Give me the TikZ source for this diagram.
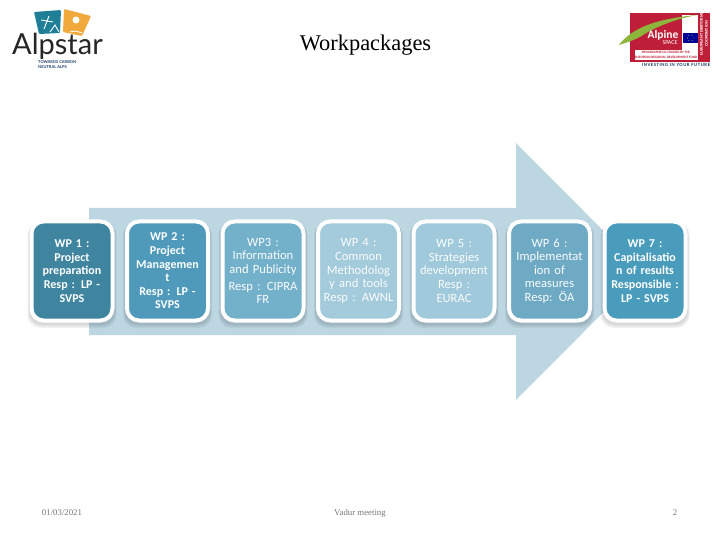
\documentclass[tikz,border=0pt]{standalone}
\usepackage{fontspec}
\setmainfont{Liberation Serif}
\newfontfamily\boxfont{Carlito}
\newfontfamily\logofont{Lato}
\usetikzlibrary{shapes.geometric}
\definecolor{arrowc}{HTML}{BCD6E2}
\definecolor{teal}{HTML}{1F7F97}
\definecolor{navy}{HTML}{1B3F66}
\definecolor{orangec}{HTML}{F0A93A}
\definecolor{redc}{HTML}{BE1E37}
\definecolor{greenc}{HTML}{8DB53C}
\definecolor{footc}{HTML}{777777}
\tikzset{
  wpbox/.style={draw=white,line width=4pt,rounded corners=12pt,minimum width=81pt,minimum height=99pt,inner sep=0pt,align=center,text=white,font=\boxfont\bfseries\fontsize{12}{13.6}\selectfont,text width=74pt},
  wplight/.style={wpbox,font=\boxfont\fontsize{12.6}{13.6}\selectfont,text=white!92!arrowc},
  foot/.style={font=\fontsize{8.8}{10}\selectfont,text=footc,inner sep=0pt,anchor=base},
  shade1/.style={fill=black,opacity=0.05,rounded corners=13pt}
}
\newcommand{\wpshadow}[2]{%
  \foreach \d in {0,1.5,3}{
    \fill[shade1] (#1-43-\d/2,271+\d-52-\d/2+2) rectangle (#1+43+\d/2,271+54+\d);
  }}
\begin{document}
\begin{tikzpicture}[x=1pt,y=-1pt]
\useasboundingbox (0,0) rectangle (720,540);
\fill[white] (0,0) rectangle (720,540);
% big arrow
\fill[arrowc] (89,208) -- (516,208) -- (516,143) -- (644,271.5) -- (516,400) -- (516,335) -- (89,335) -- cycle;
% title
\node[font=\fontsize{22.4}{26}\selectfont,inner sep=0pt,anchor=base] (title) at (365.5,50.5) {Workpackages};
% boxes
\wpshadow{72}{}\wpshadow{167.5}{}\wpshadow{263}{}\wpshadow{358.5}{}\wpshadow{454}{}\wpshadow{549.5}{}\wpshadow{645}{}
\node[wpbox,fill={rgb,255:red,63;green,133;blue,160}] (wp1) at (72,271) {WP 1 :\\Project\\preparation\\Resp : LP -\\SVPS};
\node[wpbox,fill={rgb,255:red,79;green,154;blue,186}] (wp2) at (167.5,271) {WP 2 :\\Project\\Managemen\\t\\Resp : LP -\\SVPS};
\node[wplight,fill={rgb,255:red,115;green,176;blue,202}] (wp3) at (263,271) {WP3 :\\Information\\and Publicity\\[3pt]Resp : CIPRA\\FR};
\node[wplight,fill={rgb,255:red,163;green,203;blue,220}] (wp4) at (358.5,271) {WP 4 :\\Common\\Methodolog\\y and tools\\Resp : AWNL};
\node[wplight,fill={rgb,255:red,160;green,202;blue,219}] (wp5) at (454,271) {WP 5 :\\Strategies\\development\\Resp :\\EURAC};
\node[wplight,fill={rgb,255:red,110;green,170;blue,196}] (wp6) at (549.5,271) {WP 6 :\\Implementat\\ion of\\measures\\Resp: ÖA};
\node[wpbox,fill={rgb,255:red,74;green,156;blue,188}] (wp7) at (645,271) {WP 7 :\\Capitalisatio\\n of results\\Responsible :\\LP - SVPS};
% footer
\node[foot] (date) at (62,515) {01/03/2021};
\node[foot] (venue) at (360,515) {Vadur meeting};
\node[foot] (page) at (675,515) {2};
% Alpstar logo
\fill[teal,rounded corners=1pt] (34,12) -- (61,10) -- (60,33) -- (39,34) -- cycle;
\fill[orangec,rounded corners=1pt] (64,9) -- (91,16) -- (82,36) -- (63,32) -- cycle;
\fill[white] (76,20) circle (3.5);
\draw[white,line width=0.9pt] (49,16) -- (44,29) (41,20) -- (53,22);
\draw[white,line width=0.9pt] (50,32) -- (55,25) -- (59,32);
\draw[white,line width=0.9pt] (70,32) -- (76,31) -- (82,33);
\node[font=\logofont\fontsize{29}{31}\selectfont,text=black!85,inner sep=0pt] (alp) at (57.5,46) {Alpstar};
\node[font=\logofont\bfseries\fontsize{4}{5.5}\selectfont,text=navy,align=left,inner sep=0pt,anchor=west] (tag) at (38,64.5) {TOWARDS CARBON\\NEUTRAL ALPS};
% Alpine Space logo
\fill[redc] (630,13) rectangle (710,62);
\fill[white] (635,50) rectangle (698,60);
\fill[white] (682,15) rectangle (698,50);
\fill[greenc] (619,45) .. controls (632,28) and (655,19) .. (697,15) .. controls (670,20) and (650,30) .. (640,37) .. controls (632,41) and (625,43) .. (619,45) -- cycle;
\node[font=\boxfont\bfseries\fontsize{11.5}{13}\selectfont,text=white,inner sep=0pt] (alpine) at (663,35) {Alpine};
\node[font=\boxfont\fontsize{6}{6}\selectfont,text=white,inner sep=0pt] (space) at (670,43) {SPACE};
\fill[blue!60!black] (683,33) rectangle (698,43);
\foreach \a in {0,60,...,300} \fill[yellow] (690.5,38) ++(\a:3.2) circle (0.45);
\node[font=\boxfont\bfseries\fontsize{3.4}{4.6}\selectfont,text=redc,align=center,inner sep=0pt] (fund) at (666,55) {PROGRAMME CO-FUNDED BY THE\\EUROPEAN REGIONAL DEVELOPMENT FUND};
\node[font=\boxfont\bfseries\fontsize{4.2}{4.8}\selectfont,text=white,align=center,inner sep=0pt,rotate=90] (etc) at (704,34) {EUROPEAN TERRITORIAL\\COOPERATION};
\node[font=\boxfont\bfseries\fontsize{4.8}{5}\selectfont,text=navy,inner sep=0pt] (invest) at (676,65) {\addfontfeature{LetterSpace=12}INVESTING IN YOUR FUTURE};
\end{tikzpicture}
\end{document}
